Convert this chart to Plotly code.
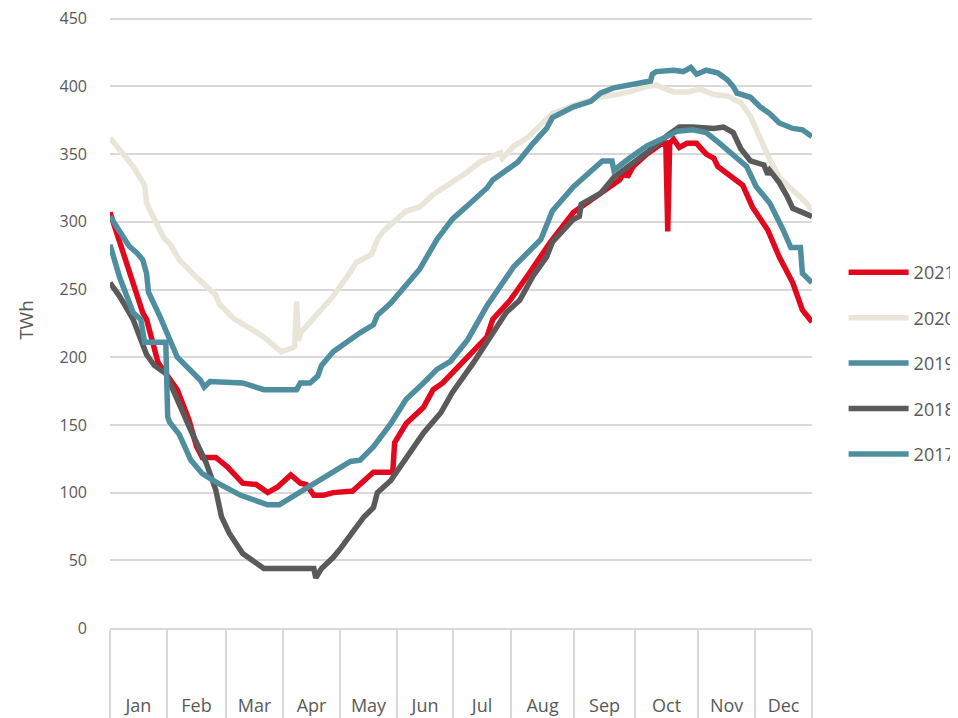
import plotly.graph_objects as go

# ---- data (x = day position within the year, y = TWh) ----
months = ["Jan", "Feb", "Mar", "Apr", "May", "Jun", "Jul", "Aug", "Sep", "Oct", "Nov", "Dec"]
month_edges = [0, 29.6, 60.3, 90.0, 119.6, 149.2, 178.4, 208.5, 241.3, 273.0, 305.8, 335.4, 365]

x_2021 = [0, 5, 12, 17, 19, 25, 35, 41, 45, 48, 55, 61, 69, 76, 82, 87, 94, 99, 102, 106, 111, 116, 125, 126,
          137, 147, 148, 154, 163, 168, 173, 180, 186, 196, 199, 208, 217, 229, 241, 250, 253, 265, 268, 269,
          272, 279, 286, 289, 290, 291, 293, 296, 300, 305, 310, 314, 316, 322, 329, 334, 342, 348, 355, 360, 365]
y_2021 = [307, 285, 255, 233, 228, 196, 176, 154, 134, 126, 126, 119, 107, 106, 100, 104, 113, 107, 106, 98, 98, 100, 101, 101,
          115, 115, 137, 151, 163, 176, 181, 191, 200, 215, 228, 242, 260, 285, 307, 316, 319, 331, 338, 333,
          341, 350, 357, 358, 293, 358, 361, 355, 358, 358, 350, 347, 341, 334, 327, 311, 294, 274, 255, 235, 226]

x_2020 = [0, 5, 12, 18, 19, 22, 28, 31, 36, 45, 55, 57, 64, 80, 89, 95, 96, 97, 98, 99, 108, 116, 125, 128, 131,
          136, 139, 142, 154, 161, 168, 178, 186, 192, 203, 204, 210, 217, 224, 230, 241, 255, 263, 270, 279,
          284, 293, 300, 307, 314, 321, 328, 333, 338, 343, 348, 355, 362, 365]
y_2020 = [362, 353, 341, 327, 314, 305, 288, 284, 272, 259, 246, 239, 229, 215, 204, 207, 208, 241, 212, 218, 233, 245, 263, 270, 272,
          276, 287, 293, 308, 311, 320, 329, 337, 344, 351, 347, 356, 362, 372, 380, 386, 392, 394, 396, 400,
          401, 396, 396, 398, 394, 393, 388, 378, 361, 346, 333, 324, 314, 308]

x_2019 = [0, 5, 10, 14, 17, 19, 20, 26, 35, 47, 49, 52, 61, 69, 80, 97, 99, 104, 108, 110, 116, 120, 125, 130,
          137, 139, 146, 152, 161, 170, 178, 189, 196, 199, 212, 220, 227, 230, 241, 250, 255, 262, 272, 281,
          282, 284, 293, 298, 302, 305, 310, 316, 321, 324, 326, 333, 338, 343, 348, 355, 360, 365]
y_2019 = [304, 293, 282, 277, 272, 262, 248, 230, 200, 183, 178, 182, 181, 181, 176, 176, 181, 181, 186, 194, 204, 208, 214, 218,
          224, 231, 240, 250, 265, 287, 302, 316, 325, 331, 344, 358, 369, 377, 385, 389, 395, 399, 402, 404,
          409, 411, 412, 411, 414, 409, 412, 410, 405, 400, 395, 392, 385, 380, 373, 369, 368, 363]

x_2018 = [0, 5, 10, 12, 19, 23, 29, 35, 42, 50, 55, 58, 62, 69, 74, 80, 106, 107, 110, 116, 120, 126, 132, 137,
          139, 146, 154, 163, 172, 178, 189, 196, 199, 206, 213, 220, 227, 230, 241, 244, 245, 255, 262, 270,
          279, 290, 296, 303, 314, 319, 324, 328, 333, 340, 342, 343, 348, 352, 355, 360, 365]
y_2018 = [255, 245, 233, 228, 202, 194, 188, 168, 146, 122, 102, 82, 70, 55, 50, 44, 44, 37, 44, 52, 59, 70, 82, 89,
          100, 109, 126, 144, 159, 174, 196, 211, 218, 233, 242, 260, 274, 285, 302, 304, 313, 321, 333, 341,
          351, 364, 370, 370, 369, 370, 366, 354, 345, 342, 335, 338, 329, 319, 310, 307, 304]

x_2017 = [0, 5, 12, 16, 18, 29, 30, 31, 36, 42, 48, 56, 68, 82, 88, 95, 106, 114, 125, 130, 137, 146, 154, 163,
          170, 177, 186, 196, 210, 224, 227, 230, 241, 250, 256, 261, 262, 270, 279, 288, 295, 303, 310, 317,
          324, 331, 336, 343, 350, 354, 359, 360, 365]
y_2017 = [283, 259, 233, 228, 211, 211, 156, 152, 143, 124, 114, 107, 98, 91, 91, 97, 107, 114, 123, 124, 134, 151, 169, 181,
          191, 197, 213, 238, 267, 287, 299, 308, 326, 338, 345, 345, 338, 347, 356, 362, 367, 368, 366, 358,
          349, 341, 326, 314, 294, 281, 281, 262, 255]

series = [
    ("2021", x_2021, y_2021, "#e0091d"),
    ("2020", x_2020, y_2020, "#e9e5d9"),
    ("2019", x_2019, y_2019, "#4f8e9f"),
    ("2018", x_2018, y_2018, "#5a5a5a"),
    ("2017", x_2017, y_2017, "#4f8e9f"),
]

y_ticks = [0, 50, 100, 150, 200, 250, 300, 350, 400, 450]

FONT = "Open Sans"
TXT = "#595959"
GRID = "#d9d9d9"

fig = go.Figure()
for name, xs, ys, col in series:
    fig.add_trace(go.Scatter(
        x=xs, y=ys, mode="lines", name=name, legendgroup=name,
        line=dict(color=col, width=5.5),
        hoverinfo="skip",
    ))

mid = [(month_edges[i] + month_edges[i + 1]) / 2 for i in range(12)]

# the page body adds an 8px margin, so the figure is 8px smaller than the window
fig.update_layout(
    width=950, height=710,
    margin=dict(l=102, r=146, t=4.2, b=90, autoexpand=False),
    plot_bgcolor="white", paper_bgcolor="white",
    font=dict(family=FONT, color=TXT),
    showlegend=True,
    legend=dict(
        x=1.045, xanchor="left", y=0.43, yanchor="middle",
        font=dict(family=FONT, size=18, color=TXT),
        traceorder="grouped", tracegroupgap=19,
        itemwidth=60, bgcolor="rgba(0,0,0,0)",
    ),
    xaxis=dict(
        range=[0, 365], tickmode="array", tickvals=mid, ticktext=months,
        ticks="", showgrid=False, zeroline=False, automargin=False,
        showline=True, linecolor=GRID, linewidth=1.5,
        tickfont=dict(family=FONT, size=18, color=TXT),
        ticklabelstandoff=61,
        minor=dict(tickmode="array", tickvals=month_edges, ticks="outside",
                   ticklen=90, tickcolor=GRID, tickwidth=1.5, showgrid=False),
        fixedrange=True,
    ),
    yaxis=dict(
        range=[0, 455], tickmode="array", tickvals=y_ticks,
        showgrid=True, gridcolor=GRID, gridwidth=1.5, zeroline=False,
        showline=False, ticks="", automargin=False,
        tickfont=dict(family=FONT, size=16, color=TXT),
        ticklabelstandoff=22, ticklabeloverflow="allow",
        title=dict(text="TWh", font=dict(family=FONT, size=19, color=TXT), standoff=20),
        fixedrange=True,
    ),
)

fig.write_html("out.html")
